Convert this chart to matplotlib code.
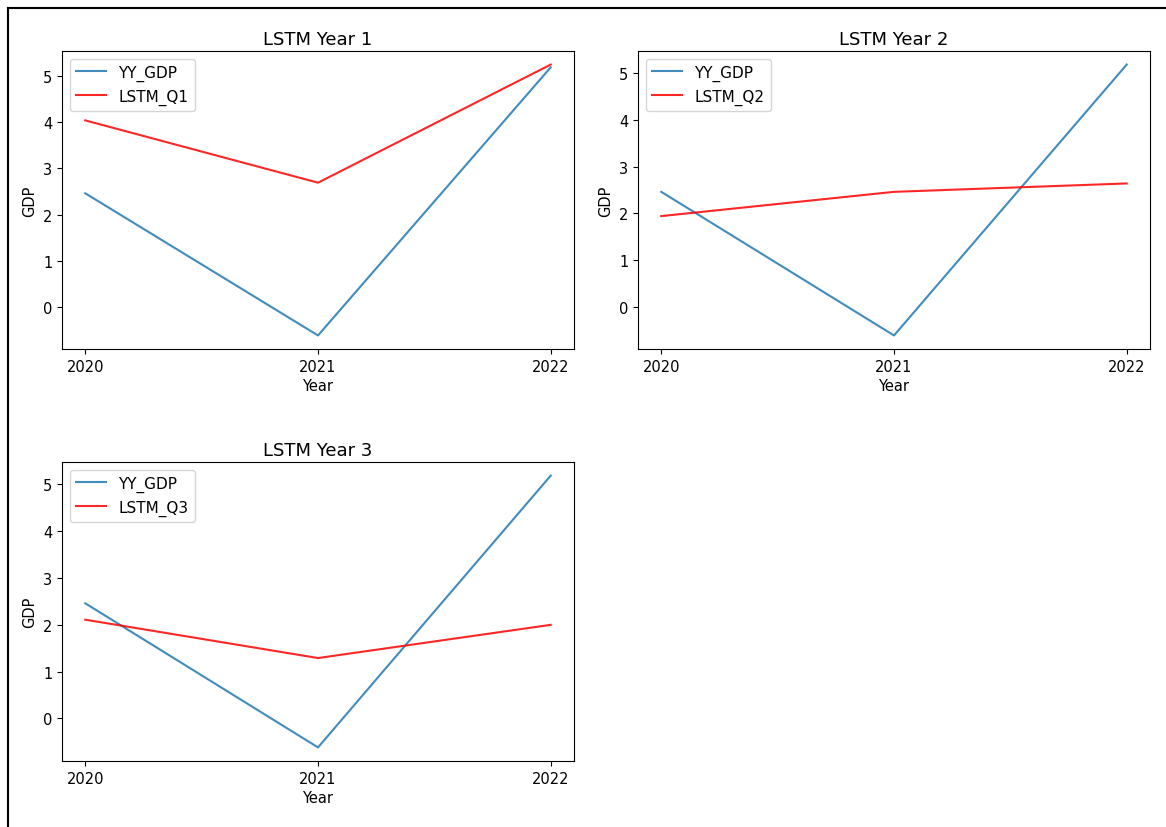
import matplotlib
matplotlib.use("Agg")
import matplotlib.pyplot as plt
from matplotlib.lines import Line2D

# data
years = [2020, 2021, 2022]
yy_gdp = [2.46, -0.62, 5.19]
lstm_q1 = [4.04, 2.69, 5.25]
lstm_q2 = [1.94, 2.46, 2.64]
lstm_q3 = [2.11, 1.29, 2.00]

preds = [lstm_q1, lstm_q2, lstm_q3]
pred_names = ['LSTM_Q1', 'LSTM_Q2', 'LSTM_Q3']
titles = ['LSTM Year 1', 'LSTM Year 2', 'LSTM Year 3']

plt.rcParams['xtick.labelsize'] = 10.5
plt.rcParams['ytick.labelsize'] = 10.5

W, H = 1166, 828
fig = plt.figure(figsize=(W / 100, H / 100), dpi=100)

# axes boxes in pixels: left, top, right, bottom
boxes = [(62, 52, 574, 350), (638, 52, 1150, 350), (62, 463, 574, 762)]

for box, pred, name, title in zip(boxes, preds, pred_names, titles):
    l, t, r, b = box
    ax = fig.add_axes([l / W, 1 - b / H, (r - l) / W, (b - t) / H])
    ax.plot(years, yy_gdp, color='#1f77b4', alpha=0.85, label='YY_GDP')
    ax.plot(years, pred, color='red', alpha=0.85, label=name)
    ax.set_xticks(years)
    ax.set_xticklabels([str(y) for y in years])
    ax.set_title(title, fontsize=13, pad=5)
    ax.set_xlabel('Year', fontsize=10.5, labelpad=3)
    ax.set_ylabel('GDP', fontsize=10.5)
    ax.legend(loc='upper left', fontsize=11)

# screenshot frame lines
fig.add_artist(Line2D([8 / W, 8 / W], [0, 1 - 9 / H], color='black', lw=1.5))
fig.add_artist(Line2D([8 / W, 1], [1 - 9 / H, 1 - 9 / H], color='black', lw=1.5))

fig.savefig('out.png', dpi=100)
